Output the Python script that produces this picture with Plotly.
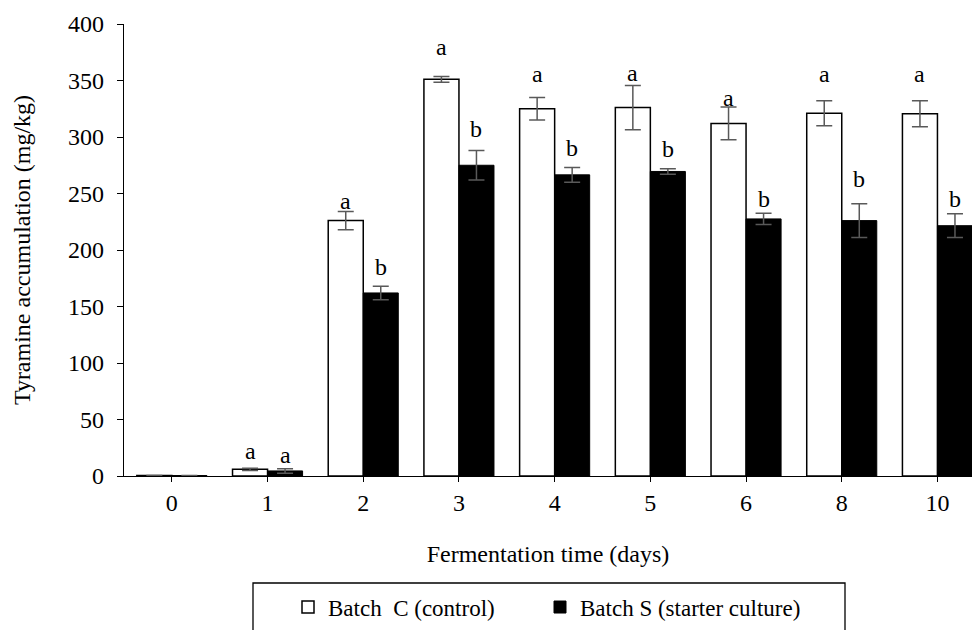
import plotly.graph_objects as go

# Tyramine accumulation during fermentation, mean ± SD (mg/kg)
days = ["0", "1", "2", "3", "4", "5", "6", "8", "10"]
batch_c = [0.4, 5.9, 226.0, 351.0, 325.0, 326.0, 312.0, 321.0, 320.5]
batch_c_sd = [0.0, 1.0, 8.0, 2.5, 10.0, 19.5, 14.5, 11.0, 11.5]
batch_s = [0.4, 4.5, 162.0, 275.0, 266.5, 269.5, 227.5, 226.0, 221.5]
batch_s_sd = [0.0, 2.0, 6.0, 13.0, 6.5, 2.5, 5.0, 15.0, 10.5]
sig_c = ["", "a", "a", "a", "a", "a", "a", "a", "a"]
sig_s = ["", "a", "b", "b", "b", "b", "b", "b", "b"]

# --- styling ---
FONT = "Liberation Serif, Times New Roman, serif"
FS = 24
ERR_COLOR = "#595959"
# vertical gap (px) between the top of each error bar and its letter
pad_c = [0, 17, 11, 30, 23, 13, 9, 27, 27]
pad_s = [0, 14, 19, 22, 20, 20, 14, 25, 15]
half_bar_px = 17.5

fig = go.Figure()
fig.add_trace(go.Bar(
    x=days, y=batch_c, name="Batch\u00a0 C (control)", legend="legend",
    marker=dict(color="white", line=dict(color="black", width=1.5)),
    error_y=dict(type="data", array=batch_c_sd, color=ERR_COLOR,
                 thickness=1.5, width=8),
))
fig.add_trace(go.Bar(
    x=days, y=batch_s, name="Batch S (starter culture)", legend="legend2",
    marker=dict(color="black", line=dict(color="black", width=1)),
    error_y=dict(type="data", array=batch_s_sd, color=ERR_COLOR,
                 thickness=1.5, width=8),
))

# significance letters above each bar (x given as category index)
annotations = []
for i in range(len(days)):
    for lab, val, sd, pad, sh in ((sig_c[i], batch_c[i], batch_c_sd[i], pad_c[i], -half_bar_px),
                                  (sig_s[i], batch_s[i], batch_s_sd[i], pad_s[i], half_bar_px)):
        if lab:
            annotations.append(dict(
                x=i, y=val + sd, xref="x", yref="y", text=lab, showarrow=False,
                xshift=sh, yshift=pad, yanchor="middle", xanchor="center",
                font=dict(family=FONT, size=FS, color="black"),
            ))

legend_common = dict(
    orientation="h", yanchor="middle", xanchor="left",
    xref="paper", yref="paper", y=-0.290,
    font=dict(family=FONT, size=23, color="black"),
    itemwidth=30, bgcolor="rgba(0,0,0,0)", borderwidth=0,
)

fig.update_layout(
    width=972, height=630,
    margin=dict(l=124, r=0, t=24, b=154),
    paper_bgcolor="white", plot_bgcolor="white",
    font=dict(family=FONT, size=FS, color="black"),
    barmode="group", bargap=0.268, bargroupgap=0,
    annotations=annotations,
    showlegend=True,
    legend=dict(legend_common, x=(288 - 124) / 848),
    legend2=dict(legend_common, x=(540 - 124) / 848),
    shapes=[dict(
        type="rect", xref="paper", yref="paper",
        x0=(253 - 124) / 848, x1=(845 - 124) / 848,
        y0=-0.5, y1=(476 - 583) / 452,
        line=dict(color="black", width=1.3), fillcolor="rgba(0,0,0,0)",
        layer="below",
    )],
)

fig.update_xaxes(
    type="category", range=[-0.5, 8.361],
    showline=True, linecolor="black", linewidth=1.3,
    ticks="outside", ticklen=5, tickwidth=1.3, tickcolor="black",
    tickfont=dict(family=FONT, size=FS),
    showgrid=False, zeroline=False,
    title=dict(text="Fermentation time (days)", font=dict(family=FONT, size=FS),
               standoff=30),
)
fig.update_yaxes(
    range=[0, 400], dtick=50, tick0=0,
    showline=True, linecolor="black", linewidth=1.3,
    ticks="outside", ticklen=6, tickwidth=1.3, tickcolor="black",
    tickfont=dict(family=FONT, size=FS), ticklabelstandoff=8,
    showgrid=False, zeroline=False,
    title=dict(text="Tyramine accumulation (mg/kg)", font=dict(family=FONT, size=FS),
               standoff=30),
)

fig.write_html("out.html")
